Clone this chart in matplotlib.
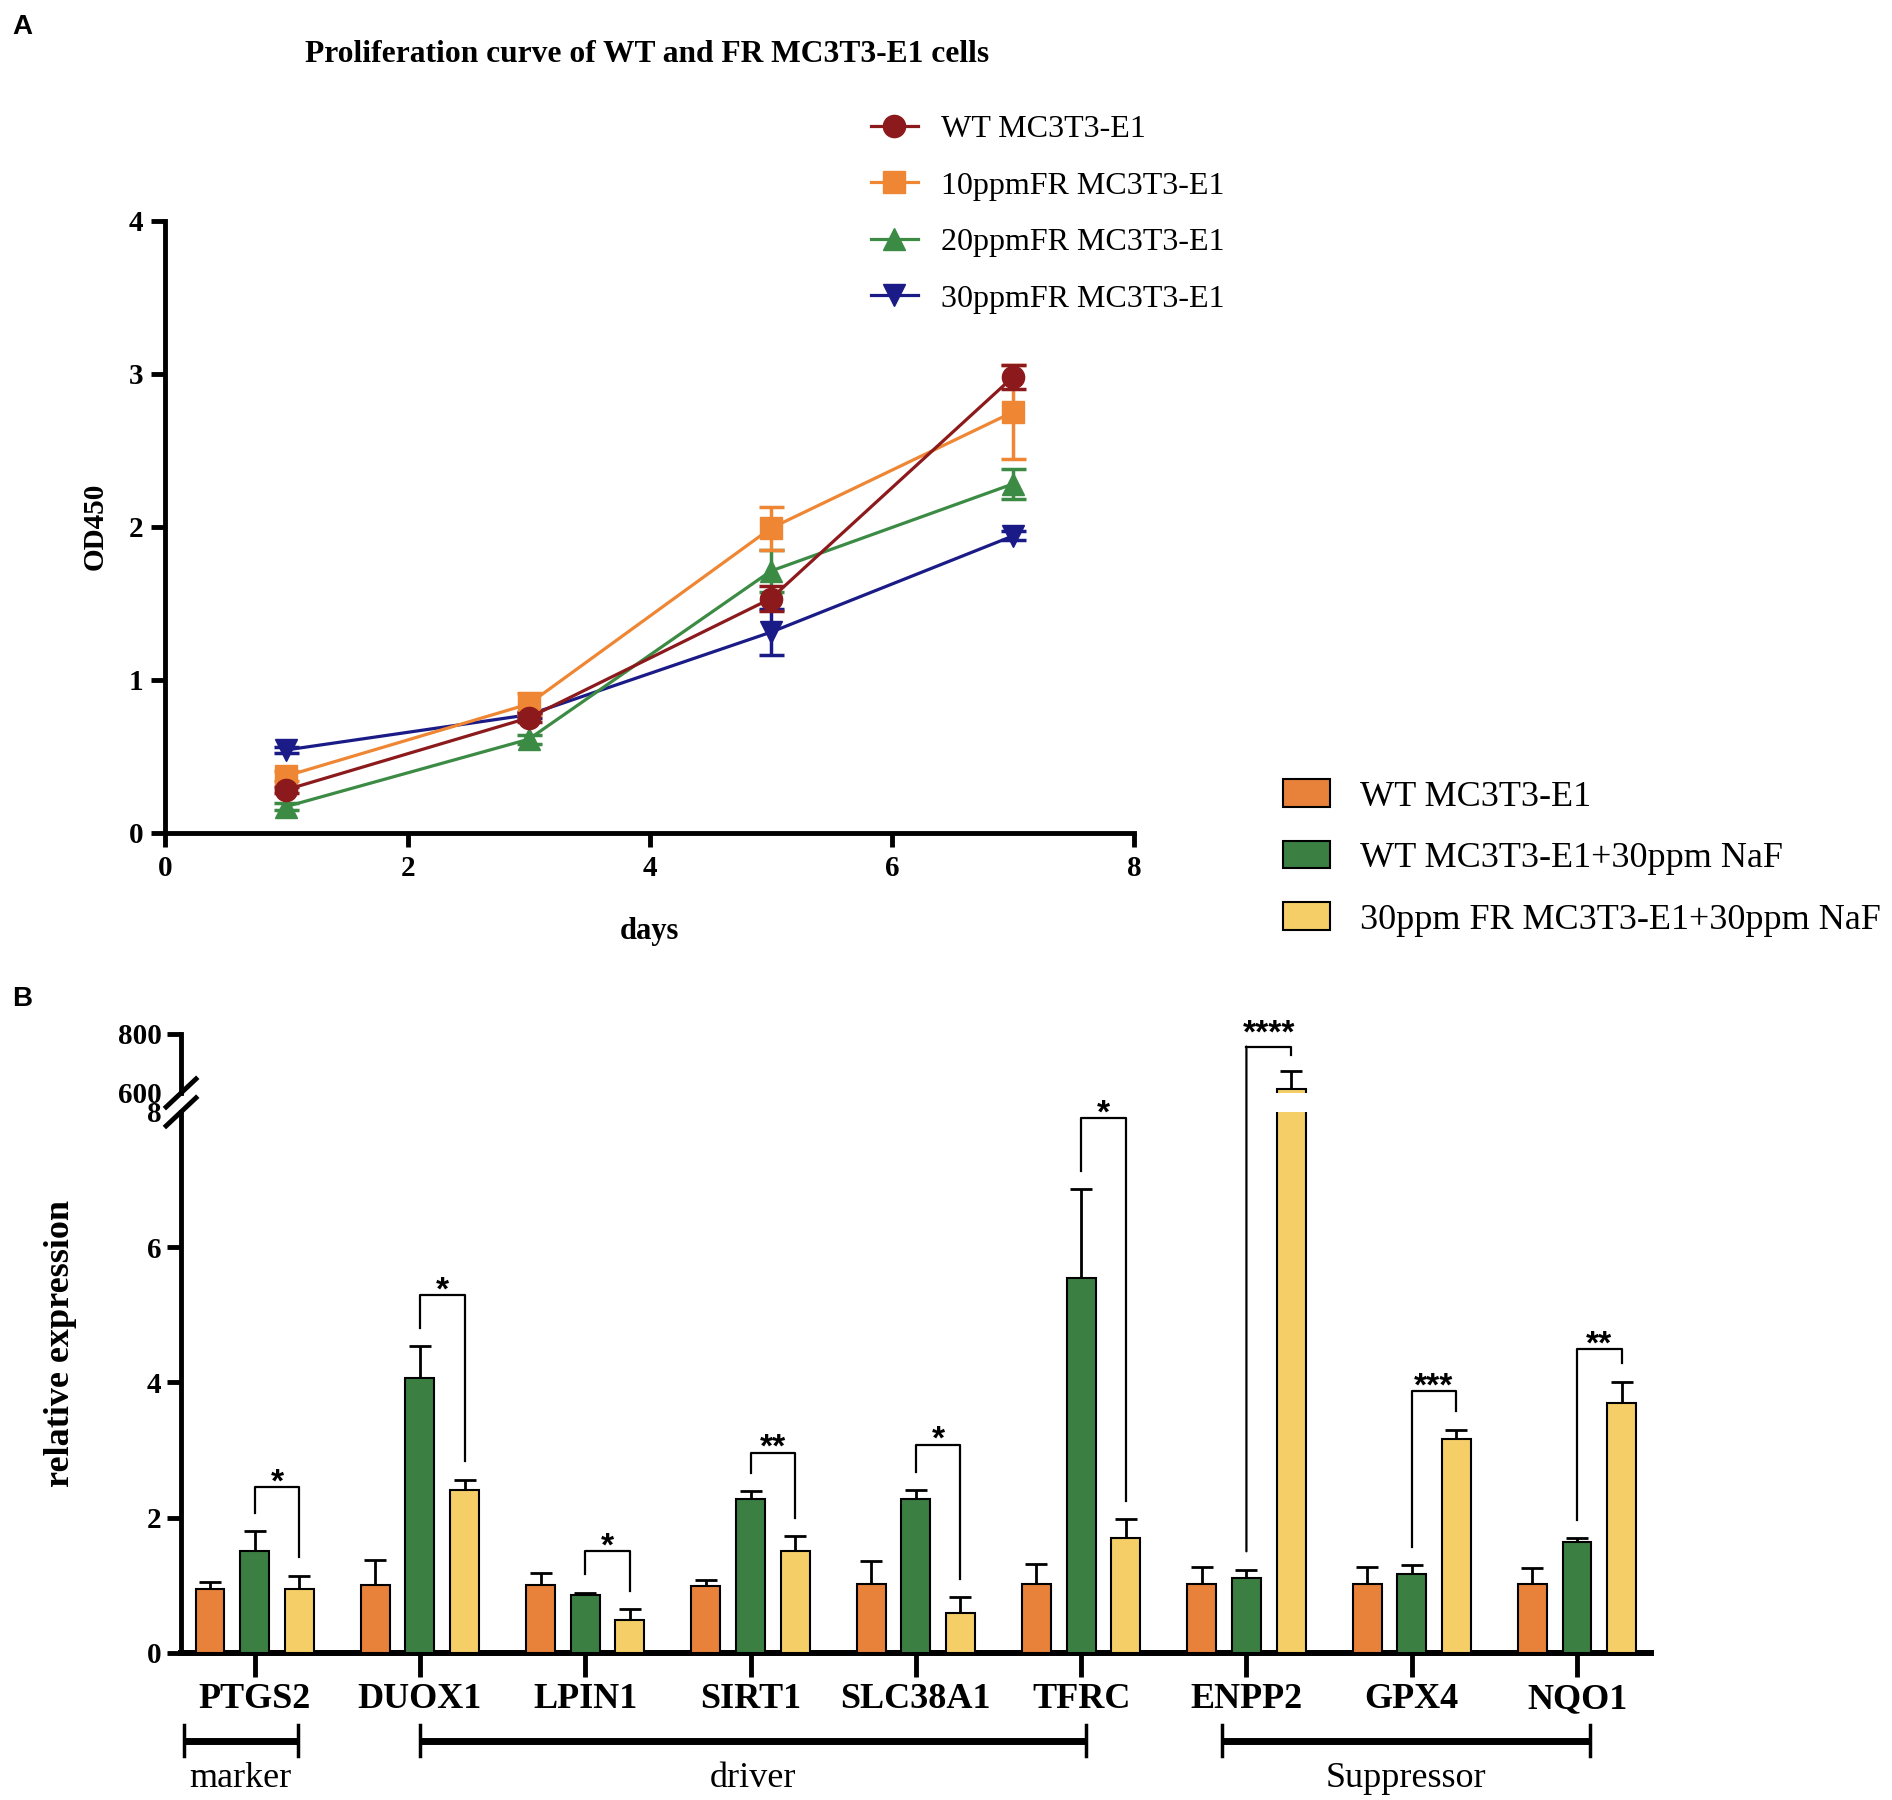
import numpy as np
import matplotlib
matplotlib.use('Agg')
import matplotlib.pyplot as plt
from matplotlib.lines import Line2D
from matplotlib.patches import ConnectionPatch, Patch
import matplotlib.transforms as mtransforms

plt.rcParams['font.family'] = ['Liberation Serif', 'DejaVu Serif']

# ---------------- Panel A data ----------------
days = [1, 3, 5, 7]
line_names = ['WT MC3T3-E1', '10ppmFR MC3T3-E1', '20ppmFR MC3T3-E1', '30ppmFR MC3T3-E1']
wt_mean = [0.28, 0.75, 1.53, 2.98]
wt_err = [0.02, 0.03, 0.08, 0.08]
fr10_mean = [0.37, 0.84, 1.99, 2.75]
fr10_err = [0.03, 0.07, 0.14, 0.31]
fr20_mean = [0.17, 0.61, 1.71, 2.28]
fr20_err = [0.02, 0.03, 0.14, 0.10]
fr30_mean = [0.54, 0.77, 1.31, 1.94]
fr30_err = [0.02, 0.02, 0.15, 0.03]

# ---------------- Panel B data ----------------
genes = ['PTGS2', 'DUOX1', 'LPIN1', 'SIRT1', 'SLC38A1', 'TFRC', 'ENPP2', 'GPX4', 'NQO1']
bar_names = ['WT MC3T3-E1', 'WT MC3T3-E1+30ppm NaF', '30ppm FR MC3T3-E1+30ppm NaF']
wt_expr = [0.95, 1.00, 1.00, 0.98, 1.02, 1.02, 1.02, 1.02, 1.02]
wt_expr_err = [0.09, 0.37, 0.18, 0.09, 0.33, 0.30, 0.25, 0.25, 0.23]
naf_expr = [1.51, 4.06, 0.86, 2.28, 2.28, 5.54, 1.10, 1.16, 1.64]
naf_expr_err = [0.29, 0.47, 0.03, 0.11, 0.12, 1.32, 0.13, 0.14, 0.05]
fr_expr = [0.95, 2.40, 0.48, 1.50, 0.59, 1.69, 612.0, 3.16, 3.69]
fr_expr_err = [0.19, 0.16, 0.16, 0.23, 0.23, 0.29, 64.0, 0.14, 0.32]
sig_labels = ['*', '*', '*', '**', '*', '*', '****', '***', '**']
bracket_level = [2.45, 5.29, 1.50, 2.96, 3.08, 7.91, 757.0, 3.87, 4.49]
group_names = ['marker', 'driver', 'Suppressor']

# ---------------- styles ----------------
line_colors = ['#8C1A1C', '#EE8634', '#3C8B45', '#1B1B87']
line_markers = ['o', 's', '^', 'v']
bar_colors = ['#E8823A', '#3B7F43', '#F5CE68']
SPW = 3.5

fig = plt.figure(figsize=(18.92, 18), dpi=100)

# ======================= Panel A =======================
axA = fig.add_axes([0.0874, 0.5375, 0.5121, 0.3398])
means = [wt_mean, fr10_mean, fr20_mean, fr30_mean]
errs = [wt_err, fr10_err, fr20_err, fr30_err]
handles = []
for i in [3, 2, 1, 0]:
    c = axA.errorbar(days, means[i], yerr=errs[i], color=line_colors[i],
                     marker=line_markers[i], markersize=16, linewidth=2.3,
                     elinewidth=2.5, capsize=9, capthick=2.5, zorder=3 + (3 - i))
    c.lines[0].set_label(line_names[i])
for i in range(4):
    handles.append(Line2D([], [], color=line_colors[i], marker=line_markers[i],
                          markersize=16, linewidth=2.3, label=line_names[i]))
axA.set_xlim(0, 8)
axA.set_ylim(0, 4)
axA.set_xticks([0, 2, 4, 6, 8])
axA.set_yticks([0, 1, 2, 3, 4])
for s in ['top', 'right']:
    axA.spines[s].set_visible(False)
for s in ['left', 'bottom']:
    axA.spines[s].set_linewidth(SPW)
axA.tick_params(width=SPW, length=10, labelsize=21, pad=6)
plt.setp(axA.get_xticklabels() + axA.get_yticklabels(), fontweight='bold')
axA.set_xlabel('days', fontsize=22, fontweight='bold')
axA.xaxis.set_label_coords(0.5, -0.138)
axA.set_ylabel('OD450', fontsize=21, fontweight='bold')
axA.yaxis.set_label_coords(-0.059, 0.5)
fig.text(0.342, 0.97, 'Proliferation curve of WT and FR MC3T3-E1 cells',
         ha='center', va='center', fontsize=22.7, fontweight='bold')
legA = axA.legend(handles=handles, loc='upper left', bbox_to_anchor=(0.4601, 0.9363),
                  bbox_transform=fig.transFigure, frameon=False, fontsize=23,
                  handlelength=1.5, handletextpad=0.7, labelspacing=0.85,
                  borderpad=0, borderaxespad=0)

fig.text(0.0063, 0.985, 'A', fontsize=20, fontweight='bold',
         family='Liberation Sans', ha='left', va='center')
fig.text(0.0063, 0.445, 'B', fontsize=20, fontweight='bold',
         family='Liberation Sans', ha='left', va='center')

# ======================= Panel B =======================
axL = fig.add_axes([0.0957, 0.0818, 0.7767, 0.3005])
axU = fig.add_axes([0.0957, 0.3928, 0.7767, 0.0328])

x = np.arange(len(genes))
offs = [-0.27, 0.0, 0.27]
bw = 0.175
vals = [wt_expr, naf_expr, fr_expr]
verrs = [wt_expr_err, naf_expr_err, fr_expr_err]
for ax in (axL, axU):
    for k in range(3):
        ax.bar(x + offs[k], vals[k], width=bw, color=bar_colors[k], edgecolor='black',
               linewidth=1.5, zorder=3, label=bar_names[k])
        ax.errorbar(x + offs[k], vals[k], yerr=[np.zeros(len(genes)), verrs[k]],
                    fmt='none', ecolor='black', elinewidth=2.0, capsize=8,
                    capthick=2.0, zorder=2)
    ax.set_xlim(-0.445, 8.445)
    ax.spines['top'].set_visible(False)
    ax.spines['right'].set_visible(False)
    ax.spines['left'].set_linewidth(SPW)

axL.set_ylim(0, 8)
axU.set_ylim(600, 800)
axU.spines['bottom'].set_visible(False)
axU.set_xticks([])
axU.set_yticks([600, 800])
axU.tick_params(axis='y', width=SPW, length=10, labelsize=21, pad=4)
axU.yaxis.get_major_ticks()[0].tick1line.set_visible(False)
plt.setp(axU.get_yticklabels(), fontweight='bold')

axL.spines['bottom'].set_linewidth(SPW + 0.8)
axL.set_yticks([0, 2, 4, 6, 8])
axL.tick_params(axis='y', width=SPW, length=10, labelsize=21, pad=4)
axL.yaxis.get_major_ticks()[-1].tick1line.set_visible(False)
axL.set_xticks(x)
axL.set_xticklabels(genes)
axL.tick_params(axis='x', width=SPW, length=17, labelsize=26, pad=5)
plt.setp(axL.get_xticklabels() + axL.get_yticklabels(), fontweight='bold')
axL.set_ylabel('relative expression', fontsize=26, fontweight='bold')
axL.yaxis.set_label_coords(-0.0708, 0.5716)

# significance brackets
gap_low = 0.27
gap_up = 51.0
for i in range(len(genes)):
    xl = x[i] + offs[1]
    xr = x[i] + offs[2]
    yb = bracket_level[i]
    lbot = naf_expr[i] + naf_expr_err[i] + gap_low
    if yb <= 8:
        rbot = fr_expr[i] + fr_expr_err[i] + gap_low
        axL.plot([xl, xl, xr, xr], [lbot, yb, yb, rbot], color='black', lw=1.6,
                 zorder=4, clip_on=False)
        axL.annotate(sig_labels[i], ((xl + xr) / 2, yb), xytext=(0, -3),
                     textcoords='offset points', ha='center', va='baseline',
                     fontsize=24, fontweight='bold', family='Liberation Sans')
    else:
        rbot = fr_expr[i] + fr_expr_err[i] + gap_up
        axU.plot([xl, xr, xr], [yb, yb, rbot], color='black', lw=1.6, zorder=4,
                 clip_on=False)
        con = ConnectionPatch(xyA=(xl, yb), coordsA='data', axesA=axU,
                              xyB=(xl, lbot), coordsB='data', axesB=axL,
                              color='black', lw=1.6, zorder=4)
        fig.add_artist(con)
        axU.annotate(sig_labels[i], ((xl + xr) / 2, yb), xytext=(0, 3),
                     textcoords='offset points', ha='center', va='baseline',
                     fontsize=24, fontweight='bold', family='Liberation Sans')

# axis break marks
bx = 0.0957
dx, dy = 0.0079, 0.0078
for yy in (0.3823, 0.3928):
    fig.add_artist(Line2D([bx - dx, bx + dx], [yy - dy, yy + dy], color='black',
                          lw=SPW, transform=fig.transFigure))

# gene category groups
trans = mtransforms.blended_transform_factory(axL.transData, axL.transAxes)
group_spans = [(-0.43, 0.263), (1.0, 5.03), (5.85, 8.08)]
for (a, b), name in zip(group_spans, group_names):
    axL.plot([a, b], [-0.1626, -0.1626], color='black', lw=5, transform=trans,
             clip_on=False, solid_capstyle='butt')
    for xx in (a, b):
        axL.plot([xx, xx], [-0.1626 - 0.029, -0.1626 + 0.029], color='black', lw=2.5,
                 transform=trans, clip_on=False)
    axL.text((a + b) / 2, -0.232, name, transform=trans, ha='center', va='center',
             fontsize=26)

# bar legend
legB = axL.legend(handles=[Patch(facecolor=bar_colors[k], edgecolor='black', linewidth=1.5,
                                 label=bar_names[k]) for k in range(3)],
                  loc='upper left', bbox_to_anchor=(0.678, 0.567),
                  bbox_transform=fig.transFigure, frameon=False, fontsize=26,
                  handlelength=1.3, handleheight=0.8, handletextpad=0.85,
                  labelspacing=0.75, borderpad=0, borderaxespad=0)

fig.savefig('out.png', dpi=100)
